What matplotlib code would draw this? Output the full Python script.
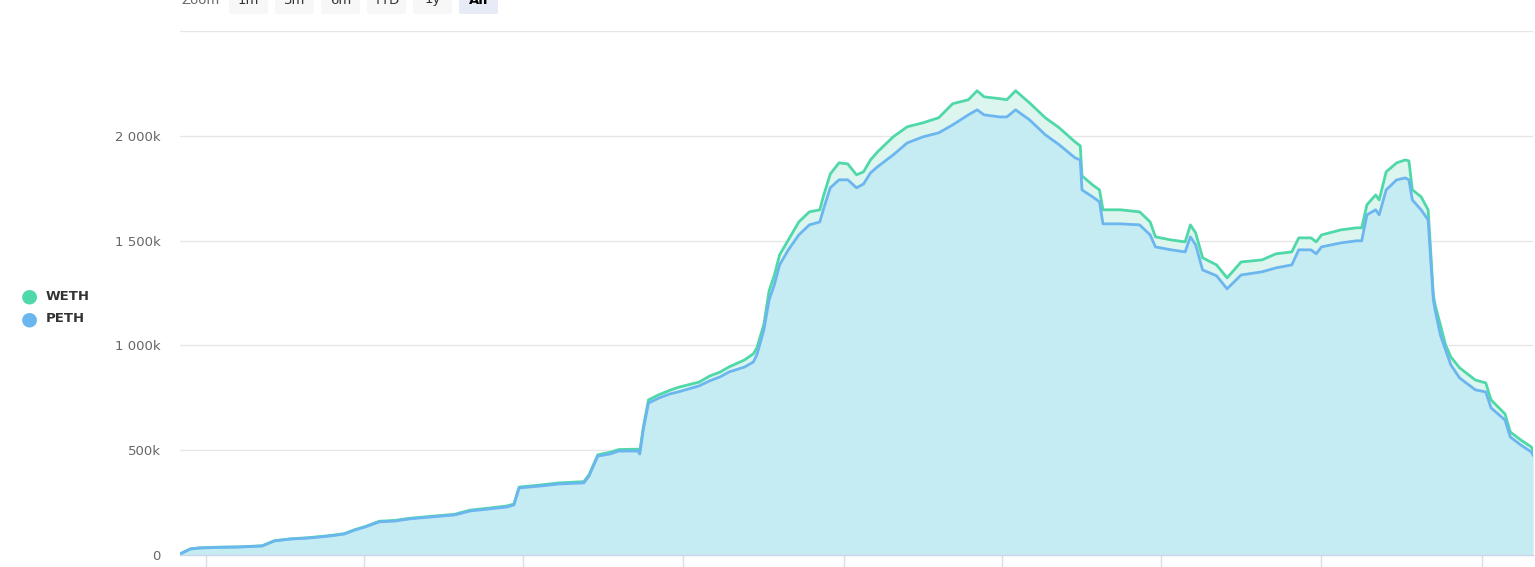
import matplotlib
matplotlib.use("Agg")
import matplotlib.pyplot as plt
from matplotlib.patches import FancyBboxPatch
import pandas as pd
import numpy as np

dates = [
    "2017-12-17", "2017-12-23", "2017-12-28", "2018-01-06", "2018-01-20", "2018-02-02",
    "2018-02-09", "2018-02-18", "2018-03-01", "2018-03-13", "2018-03-21", "2018-03-27",
    "2018-04-02", "2018-04-10", "2018-04-19", "2018-04-27", "2018-05-09", "2018-05-23",
    "2018-06-01", "2018-06-12", "2018-06-22", "2018-06-26", "2018-06-29", "2018-07-11",
    "2018-07-22", "2018-08-05", "2018-08-08", "2018-08-13", "2018-08-20", "2018-08-25",
    "2018-09-05", "2018-09-06", "2018-09-08", "2018-09-11", "2018-09-17", "2018-09-23",
    "2018-09-28", "2018-10-10", "2018-10-16", "2018-10-22", "2018-10-27", "2018-11-05",
    "2018-11-10", "2018-11-12", "2018-11-16", "2018-11-19", "2018-11-22", "2018-11-25",
    "2018-11-30", "2018-12-06", "2018-12-12", "2018-12-18", "2018-12-20", "2018-12-24",
    "2018-12-29", "2019-01-03", "2019-01-08", "2019-01-12", "2019-01-16", "2019-01-20",
    "2019-01-29", "2019-02-06", "2019-02-15", "2019-02-24", "2019-03-04", "2019-03-13",
    "2019-03-18", "2019-03-22", "2019-03-31", "2019-04-04", "2019-04-09", "2019-04-17",
    "2019-04-26", "2019-05-04", "2019-05-13", "2019-05-16", "2019-05-17", "2019-05-23",
    "2019-05-27", "2019-05-29", "2019-06-08", "2019-06-19", "2019-06-25", "2019-06-28",
    "2019-07-07", "2019-07-15", "2019-07-18", "2019-07-21", "2019-07-25", "2019-08-02",
    "2019-08-08", "2019-08-16", "2019-08-28", "2019-09-05", "2019-09-14", "2019-09-18",
    "2019-09-25", "2019-09-28", "2019-10-01", "2019-10-12", "2019-10-21", "2019-10-24",
    "2019-10-27", "2019-11-01", "2019-11-03", "2019-11-07", "2019-11-13", "2019-11-18",
    "2019-11-20", "2019-11-22", "2019-11-27", "2019-12-01", "2019-12-04", "2019-12-05",
    "2019-12-08", "2019-12-11", "2019-12-14", "2019-12-19", "2019-12-28", "2020-01-03",
    "2020-01-06", "2020-01-14", "2020-01-17", "2020-01-23", "2020-01-29", "2020-01-30",
]

peth_k = [
    5, 29, 33, 36, 38, 43,
    67, 76, 81, 91, 100, 119,
    134, 158, 162, 172, 181, 191,
    210, 220, 229, 239, 320, 329,
    339, 344, 377, 472, 482, 496,
    496, 482, 597, 725, 749, 768,
    778, 807, 831, 850, 873, 897,
    921, 955, 1074, 1217, 1289, 1384,
    1456, 1527, 1575, 1589, 1647, 1752,
    1790, 1790, 1752, 1770, 1823, 1852,
    1909, 1966, 1995, 2014, 2052, 2100,
    2124, 2100, 2090, 2090, 2124, 2076,
    2005, 1957, 1895, 1885, 1742, 1709,
    1685, 1580, 1580, 1575, 1527, 1470,
    1456, 1446, 1518, 1480, 1360, 1332,
    1270, 1336, 1351, 1370, 1384, 1456,
    1456, 1437, 1470, 1489, 1499, 1499,
    1623, 1647, 1623, 1742, 1790, 1799,
    1790, 1694, 1647, 1599, 1217, 1169,
    1050, 978, 907, 845, 788, 778,
    702, 644, 563, 525, 492, 477,
]

weth_k = [
    5, 29, 34, 37, 39, 44,
    68, 77, 83, 93, 102, 121,
    136, 161, 165, 175, 184, 194,
    214, 224, 234, 243, 324, 334,
    344, 350, 383, 478, 490, 503,
    505, 492, 608, 740, 765, 785,
    800, 825, 854, 873, 897, 931,
    960, 988, 1100, 1260, 1335, 1432,
    1503, 1589, 1637, 1647, 1710, 1818,
    1871, 1866, 1814, 1828, 1885, 1923,
    1995, 2043, 2062, 2086, 2153, 2172,
    2215, 2186, 2177, 2172, 2215, 2157,
    2086, 2038, 1971, 1952, 1809, 1766,
    1742, 1647, 1647, 1637, 1589, 1518,
    1503, 1494, 1575, 1537, 1418, 1384,
    1322, 1398, 1408, 1437, 1446, 1513,
    1513, 1494, 1527, 1551, 1561, 1561,
    1671, 1718, 1694, 1828, 1871, 1885,
    1880, 1742, 1709, 1647, 1240, 1193,
    1098, 1002, 945, 893, 835, 821,
    740, 673, 587, 549, 516, 500,
]

yticks_k = [0, 500, 1000, 1500, 2000, 2500]
ytick_labels = ["0", "500k", "1 000k", "1 500k", "2 000k", ""]
xtick_dates = ["2018-01-01", "2018-04-01", "2018-07-01", "2018-10-01", "2019-01-01",
               "2019-04-01", "2019-07-01", "2019-10-01", "2020-01-01"]
series_names = ["WETH", "PETH"]
zoom_buttons = ["1m", "3m", "6m", "YTD", "1y", "All"]

x = pd.to_datetime(dates)
weth = np.array(weth_k) * 1000
peth = np.array(peth_k) * 1000

W, H = 1535, 567
fig = plt.figure(figsize=(W / 100, H / 100), dpi=100)
fig.patch.set_facecolor("white")

left_px, right_px, top_px, bottom_px = 180, 1533, 31, 555
ax = fig.add_axes([left_px / W, 1 - bottom_px / H, (right_px - left_px) / W, (bottom_px - top_px) / H])

weth_line = "#4fd8a8"
peth_line = "#6cb6ef"

ax.fill_between(x, 0, weth, color="#ddf5ef", zorder=1, linewidth=0)
ax.fill_between(x, 0, peth, color="#c5ebf3", zorder=2, linewidth=0)
ax.plot(x, weth, color=weth_line, lw=2, zorder=3, solid_joinstyle="round")
ax.plot(x, peth, color=peth_line, lw=2, zorder=4, solid_joinstyle="round")

ax.set_xlim(x[0], x[-1])
ax.set_ylim(0, 2500000)
ax.set_yticks([v * 1000 for v in yticks_k])
ax.set_yticklabels(ytick_labels)
ax.grid(axis="y", color="#e6e6e6", lw=1, zorder=0)
ax.set_axisbelow(True)
ax.tick_params(axis="y", length=0, pad=14, labelsize=9.5, labelcolor="#666666")

ax.set_xticks(pd.to_datetime(xtick_dates))
ax.set_xticklabels([""] * len(xtick_dates))
ax.tick_params(axis="x", length=10, color="#d8dde8", width=1, direction="out")

for s in ["top", "right", "left"]:
    ax.spines[s].set_visible(False)
ax.spines["bottom"].set_color("#ccd6eb")
ax.spines["bottom"].set_linewidth(1)
ax.spines["bottom"].set_zorder(5)

# legend
leg_colors = [weth_line, peth_line]
for i, (name, c) in enumerate(zip(series_names, leg_colors)):
    ypx = 296 + i * 23
    fig.text(29 / W, 1 - ypx / H, "\u25CF", color=c, fontsize=14, ha="center", va="center")
    fig.text(46 / W, 1 - ypx / H, name, color="#333333", fontsize=9.5, fontweight="bold",
             ha="left", va="center")

# zoom buttons (partially cut off at the top, as in the reference)
fig.text(181 / W, 1 - 0 / H, "Zoom", color="#666666", fontsize=9.5, ha="left", va="center")
btn_x = [229, 275, 321, 367, 413, 459]
for bx, lab in zip(btn_x, zoom_buttons):
    sel = lab == "All"
    rect = FancyBboxPatch((bx / W, 1 - 14 / H), 39 / W, 30 / H,
                          boxstyle="round,pad=0,rounding_size=0.002",
                          transform=fig.transFigure, facecolor="#e6ebf5" if sel else "#f7f7f7",
                          edgecolor="none")
    fig.patches.append(rect)
    fig.text((bx + 19.5) / W, 1 - 0 / H, lab, color="#000000" if sel else "#333333",
             fontsize=9.5, fontweight="bold" if sel else "normal", ha="center", va="center")

fig.savefig("out.png", dpi=100)
